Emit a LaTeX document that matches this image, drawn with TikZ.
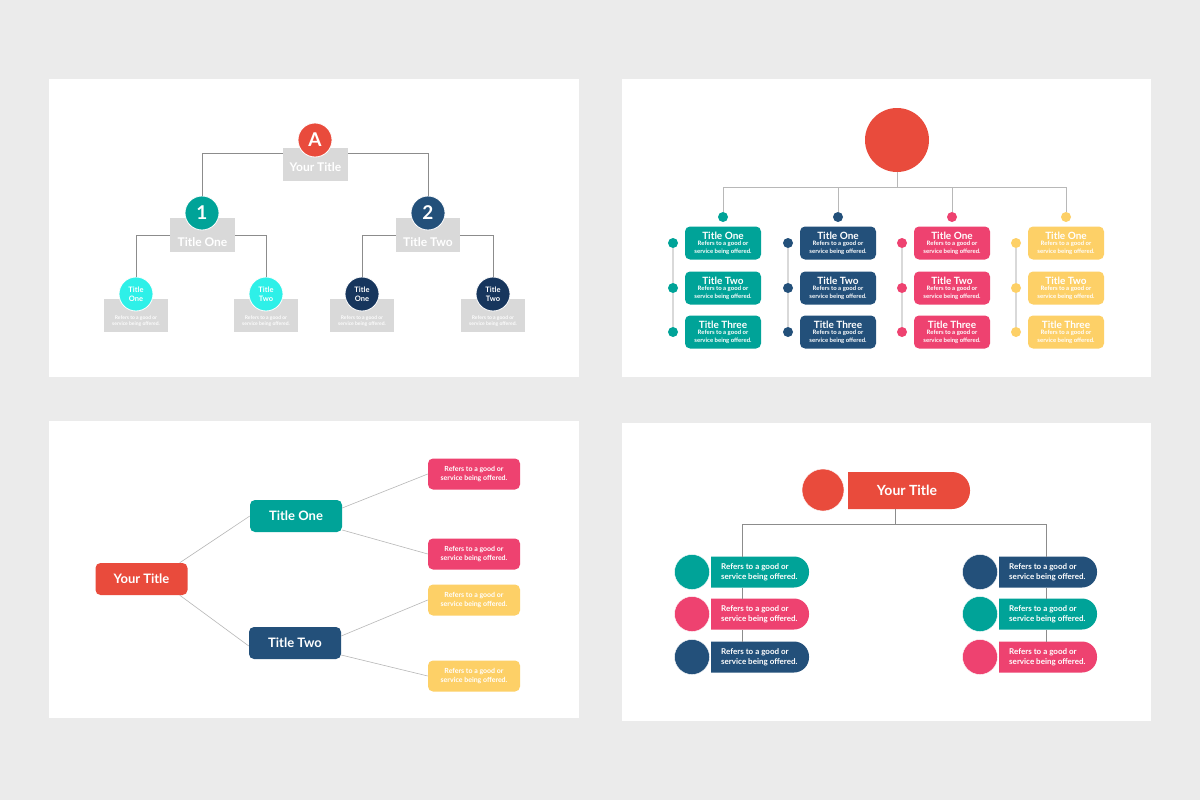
\documentclass[tikz,border=0pt]{standalone}
\usepackage{fontspec}
\setmainfont{Lato}
\definecolor{bgc}{HTML}{EBEBEB}
\definecolor{red}{HTML}{E94B3C}
\definecolor{teal}{HTML}{00A398}
\definecolor{navy}{HTML}{23507A}
\definecolor{dnavy}{HTML}{17365D}
\definecolor{cyan}{HTML}{2EF0E8}
\definecolor{pink}{HTML}{EE4270}
\definecolor{yel}{HTML}{FDD067}
\definecolor{gbox}{HTML}{D9D9D9}
\definecolor{ln}{HTML}{8C8C8C}
\begin{document}
\begin{tikzpicture}[x=1pt,y=-1pt,
  panel/.style={fill=white,draw=none},
  circ/.style={circle,inner sep=0pt,minimum size=#1,text=white,font=\bfseries},
  gb/.style={fill=gbox,inner sep=0pt},
  gt/.style={text=white,font=\fontsize{12}{14}\selectfont\bfseries,inner sep=0pt},
  con/.style={draw=ln,line width=0.9pt},
  lcon/.style={draw=gbox!85!black,line width=0.6pt},
  rb/.style={fill=#1,rounded corners=5pt,inner sep=0pt,minimum width=76pt,minimum height=33pt,text=white,align=center,font=\bfseries},
  dot/.style={circle,fill=#1,inner sep=0pt,minimum size=10pt},
]
\fill[bgc] (0,0) rectangle (1200,800);
\useasboundingbox (0,0) rectangle (1200,800);
\fill[panel] (49,79) rectangle (579,377);
\fill[panel] (622,79) rectangle (1151,377);
\fill[panel] (49,421) rectangle (579,718);
\fill[panel] (622,423) rectangle (1151,721);

% ---------- TL ----------
\node[gb,minimum width=65pt,minimum height=33pt] (Y) at (315.5,164) {};
\node[gt] (Yt) at (315.5,167) {Your Title};
\node[circ=34pt,fill=red,draw=white,line width=0.8pt,font=\fontsize{19}{20}\selectfont\bfseries] (A) at (315,140) {A};
\node[gb,minimum width=65pt,minimum height=34pt] (T1) at (202.5,235) {};
\node[gb,minimum width=64pt,minimum height=34pt] (T2) at (428,235) {};
\node[gt] (T1t) at (202.5,242) {Title One};
\node[gt] (T2t) at (428,242) {Title Two};
\node[circ=34pt,fill=teal,draw=white,line width=0.8pt,font=\fontsize{19}{20}\selectfont\bfseries] (c1) at (202,213) {1};
\node[circ=34pt,fill=navy,draw=white,line width=0.8pt,font=\fontsize{19}{20}\selectfont\bfseries] (c2) at (428,213) {2};
\draw[con] ([yshift=-6pt]Y.north west) -| (c1.north);
\draw[con] ([yshift=-6pt]Y.north east) -| (c2.north);
\foreach \n/\x/\col/\t in {a/136/cyan/One, b/266/cyan/Two, c/362/dnavy/One, d/493/dnavy/Two}{
  \node[gb,minimum width=64pt,minimum height=33pt] (g\n) at (\x,315.5) {};
  \node[text=white!96!gbox,align=center,font=\fontsize{5}{6.8}\selectfont\bfseries,inner sep=0pt] (gt\n) at (\x,321) {Refers to a good or\\ service being offered.};
  \node[circ=34pt,fill=\col,draw=white,line width=0.8pt,font=\fontsize{7.5}{8.5}\selectfont\bfseries,align=center] (s\n) at (\x,294) {Title\\\t};
}
\draw[con] ([yshift=0pt]T1.west) -| (sa.north);
\draw[con] (T1.east) -| (sb.north);
\draw[con] (T2.west) -| (sc.north);
\draw[con] (T2.east) -| (sd.north);

% ---------- TR ----------
\node[circle,fill=red,inner sep=0pt,minimum size=64pt] (R) at (897,140) {};
\coordinate (hub) at (897,187);
\draw[lcon] (R.south) -- (hub);
\foreach \k/\x/\col in {1/723/teal,2/838/navy,3/952/pink,4/1066/yel}{
  \node[dot=\col] (top\k) at (\x,217) {};
  \draw[lcon] (hub) -| (top\k.north);
  \node[rb=\col] (b\k a) at (\x,243) {\fontsize{10}{11}\selectfont Title One\\[-1pt]\parbox{70pt}{\centering\fontsize{6}{7.2}\selectfont Refers to a good or\\ service being offered.}};
  \node[rb=\col] (b\k b) at (\x,288) {\fontsize{10}{11}\selectfont Title Two\\[-1pt]\parbox{70pt}{\centering\fontsize{6}{7.2}\selectfont Refers to a good or\\ service being offered.}};
  \node[rb=\col] (b\k c) at (\x,332) {\fontsize{10}{11}\selectfont Title Three\\[-1pt]\parbox{70pt}{\centering\fontsize{6}{7.2}\selectfont Refers to a good or\\ service being offered.}};
  \node[dot=\col] (l\k a) at (\x-50,243) {};
  \node[dot=\col] (l\k b) at (\x-50,288) {};
  \node[dot=\col] (l\k c) at (\x-50,332) {};
  \draw[lcon,line width=2pt,draw=gbox] (l\k a) -- (l\k b) -- (l\k c);
}

% ---------- BL ----------
\tikzset{bb/.style={fill=#1,rounded corners=5pt,inner sep=0pt,minimum width=92pt,minimum height=32pt,text=white,font=\fontsize{13}{15}\selectfont\bfseries},
 sb/.style={fill=#1,rounded corners=5pt,inner sep=0pt,minimum width=92pt,minimum height=31pt,text=white,align=center,font=\fontsize{7}{8.5}\selectfont\bfseries}}
\node[bb=red] (YT) at (141.5,579) {Your Title};
\node[bb=teal] (O) at (296,516) {Title One};
\node[bb=navy] (W) at (295,643) {Title Two};
\node[sb=pink] (p1) at (474,474) {Refers to a good or\\service being offered.};
\node[sb=pink] (p2) at (474,554) {Refers to a good or\\service being offered.};
\node[sb=yel] (p3) at (474,600) {Refers to a good or\\service being offered.};
\node[sb=yel] (p4) at (474,676) {Refers to a good or\\service being offered.};
\draw[lcon] ([xshift=-8pt]YT.north east) -- (O.west);
\draw[lcon] ([xshift=-8pt]YT.south east) -- ([yshift=-3pt]W.west);
\draw[lcon] ([yshift=8pt]O.east) -- (p1.west);
\draw[lcon] ([yshift=-14pt]O.east) -- (p2.west);
\draw[lcon] ([yshift=7pt]W.east) -- (p3.west);
\draw[lcon] ([yshift=-12pt]W.east) -- (p4.west);

% ---------- BR ----------
\node[circle,fill=red,draw=white,inner sep=0pt,minimum size=42pt] (RC) at (823,490) {};
\fill[red] (848,472) [rounded corners=18pt] -- (970,472) -- (970,509) [sharp corners] -- (848,509) -- cycle;
\node[text=white,font=\fontsize{14}{16}\selectfont\bfseries,inner sep=0pt] (RT) at (907,490) {Your Title};
\coordinate (RB) at (895,509);
\coordinate (bh) at (895,524);
\coordinate (lh) at (742,524);
\coordinate (rh) at (1046,524);
\draw[con] (RB) -- (bh);
\draw[con] (lh) -- (rh);
\foreach \s/\cx/\bx/\cola/\colb/\colc in {L/692/711/teal/pink/navy, R/980/999/navy/teal/pink}{
  \foreach \i/\y/\c in {1/572/\cola, 2/614/\colb, 3/657/\colc}{
    \fill[\c] (\bx,\y-15.5) [rounded corners=15pt] -- (\bx+98,\y-15.5) -- (\bx+98,\y+15.5) [sharp corners] -- (\bx,\y+15.5) -- cycle;
    \node[anchor=west,text=white,align=left,font=\fontsize{8}{9.8}\selectfont\bfseries,inner sep=0pt] (\s t\i) at (\bx+10,\y) {Refers to a good or\\service being offered.};
    \node[circle,fill=\c,draw=white,inner sep=0pt,minimum size=35pt] (\s c\i) at (\cx,\y) {};
  }
}
\draw[con] (lh) -- (742,556.5);
\draw[con] (742,587.5) -- (742,598.5);
\draw[con] (742,629.5) -- (742,641.5);
\draw[con] (rh) -- (1046,556.5);
\draw[con] (1046,587.5) -- (1046,598.5);
\draw[con] (1046,629.5) -- (1046,641.5);
\end{tikzpicture}
\end{document}
